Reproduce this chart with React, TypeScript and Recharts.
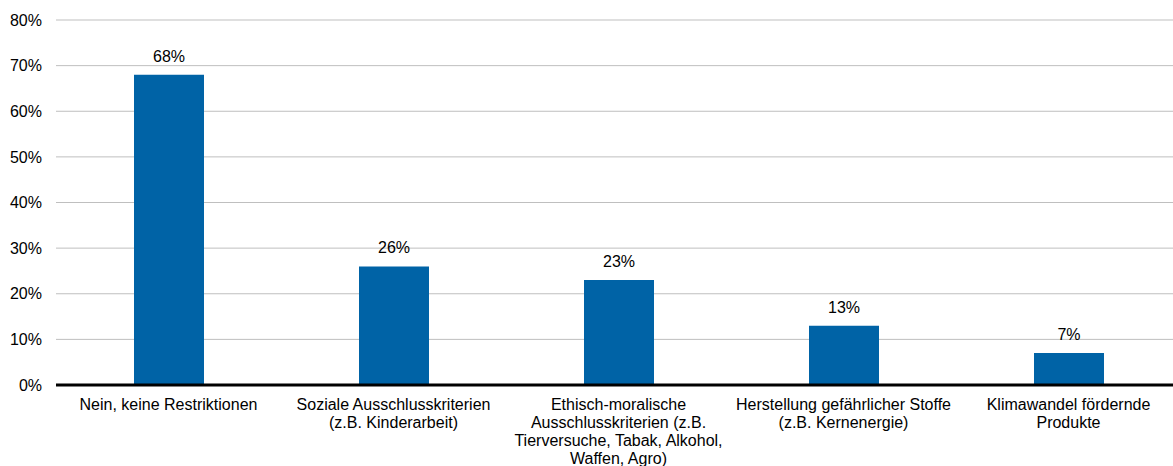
import React from "react";
import {Bar, BarChart, CartesianGrid, LabelList, XAxis, YAxis} from "recharts";

const categories = [
    "Nein, keine Restriktionen",
    "Soziale Ausschlusskriterien\n(z.B. Kinderarbeit)",
    "Ethisch-moralische\nAusschlusskriterien (z.B.\nTierversuche, Tabak, Alkohol,\nWaffen, Agro)",
    "Herstellung gefährlicher Stoffe\n(z.B. Kernenergie)",
    "Klimawandel fördernde\nProdukte",
];
const shares = [68, 26, 23, 13, 7];
const yTicks = [0, 10, 20, 30, 40, 50, 60, 70, 80];

const data = categories.map((name, i) => ({name, value: shares[i]}));

const font = "Liberation Sans, Arial, sans-serif";

function CategoryTick(props: any) {
    const {x, y, payload} = props;
    const lines = String(payload.value).split("\n");
    return (
        <text x={x} y={y} textAnchor="middle" fill="#000" fontSize={16} fontFamily={font}>
            {lines.map((line, i) => (
                <tspan key={i} x={x} dy={i === 0 ? 17 : 18}>{line}</tspan>
            ))}
        </text>
    );
}

export default function App() {
    return (
        <div style={{position: "absolute", left: 0, top: 0, width: 1173, height: 466, overflow: "hidden", background: "#fff"}}>
            <BarChart
                width={1181}
                height={466}
                data={data}
                margin={{top: 20, right: 0, left: 0, bottom: 0}}
            >
                <CartesianGrid vertical={false} stroke="#bfbfbf" strokeWidth={1} />
                <XAxis
                    dataKey="name"
                    height={81}
                    interval={0}
                    tickLine={false}
                    axisLine={{stroke: "#000", strokeWidth: 3}}
                    tick={<CategoryTick />}
                />
                <YAxis
                    width={56}
                    domain={[0, 80]}
                    ticks={yTicks}
                    interval={0}
                    tickLine={false}
                    axisLine={false}
                    tickFormatter={(v: number) => `${v}%`}
                    tick={{fill: "#000", fontSize: 16, fontFamily: font, dx: -6}}
                />
                <Bar dataKey="value" fill="#0063a6" barSize={70} isAnimationActive={false}>
                    <LabelList
                        dataKey="value"
                        position="top"
                        offset={13}
                        formatter={(v: any) => `${v}%`}
                        style={{fill: "#000", fontSize: 16, fontFamily: font}}
                    />
                </Bar>
            </BarChart>
        </div>
    );
}
